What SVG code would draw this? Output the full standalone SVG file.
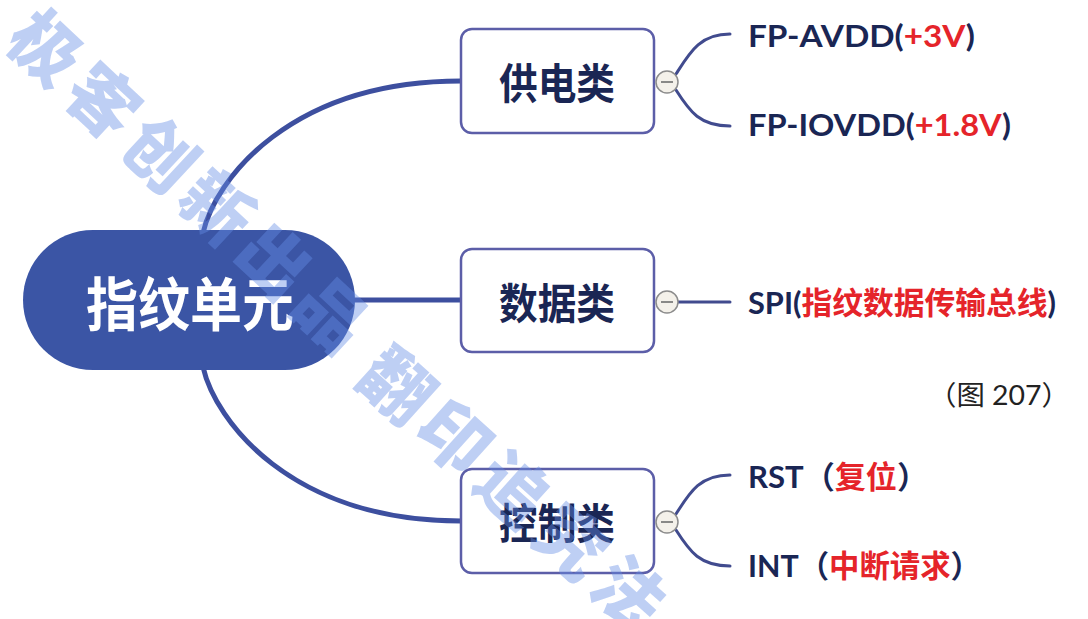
<svg xmlns="http://www.w3.org/2000/svg" width="1088" height="619" viewBox="0 0 1088 619">
<style>
.main{stroke:#3d4f9f;stroke-width:5;fill:none;stroke-linecap:round}
.br{stroke:#414b8e;stroke-width:3;fill:none;stroke-linecap:round}
.box{fill:#fff;stroke:#5c5ea8;stroke-width:2.5}
.cat{font-family:"Noto Sans CJK SC",sans-serif;font-weight:700;font-size:42px;fill:#1a2654}
.leaf{font-family:"Lato","Noto Sans CJK SC",sans-serif;font-weight:700;font-size:31px;fill:#1a2654}
.red{fill:#e5242a}
.tog circle{fill:#f4f1ea;stroke:#8c8c8c;stroke-width:1.5}
.tog line{stroke:#666;stroke-width:1.5}
.wm{font-family:"Noto Sans CJK SC",sans-serif;font-weight:900;font-size:70px;fill:rgb(100,140,228);fill-opacity:0.42}
</style>
<rect width="1088" height="619" fill="#fff"/>
<g id="connectors">
<path class="main" d="M203,233 C215,180 290,81 461,81"/>
<path class="main" d="M355,300 L461,300"/>
<path class="main" d="M203,367 C215,420 290,521 461,521"/>
<path class="br" d="M676,74 C690,52 700,34 730,34"/>
<path class="br" d="M676,90 C690,112 700,126 730,126"/>
<path class="br" d="M678,302 L730,302"/>
<path class="br" d="M676,514 C690,492 700,475 730,475"/>
<path class="br" d="M676,530 C690,552 700,566 730,566"/>
</g>
<g id="root">
<rect x="23" y="230" width="332" height="140" rx="70" fill="#3b55a5"/>
<text x="86" y="326" font-family="Noto Sans CJK SC,sans-serif" font-weight="700" font-size="58" fill="#fff" textLength="208" lengthAdjust="spacingAndGlyphs">指纹单元</text>
</g>
<g id="power">
<rect class="box" x="461" y="29" width="193" height="104" rx="11"/>
<text class="cat" x="499" y="99" textLength="116" lengthAdjust="spacingAndGlyphs">供电类</text>
<g class="tog"><circle cx="667" cy="82" r="11"/><line x1="661" y1="82" x2="673" y2="82"/></g>
</g>
<g id="data">
<rect class="box" x="461" y="249" width="193" height="103" rx="11"/>
<text class="cat" x="499" y="319" textLength="116" lengthAdjust="spacingAndGlyphs">数据类</text>
<g class="tog"><circle cx="667" cy="302" r="11"/><line x1="661" y1="302" x2="673" y2="302"/></g>
</g>
<g id="control">
<rect class="box" x="461" y="469" width="193" height="104" rx="11"/>
<text class="cat" x="499" y="539" textLength="116" lengthAdjust="spacingAndGlyphs">控制类</text>
<g class="tog"><circle cx="667" cy="522" r="11"/><line x1="661" y1="522" x2="673" y2="522"/></g>
</g>
<g id="avdd"><text class="leaf" x="748" y="47" textLength="227" lengthAdjust="spacingAndGlyphs">FP-AVDD(<tspan class="red">+3V</tspan>)</text></g>
<g id="iovdd"><text class="leaf" x="748" y="136" textLength="263" lengthAdjust="spacingAndGlyphs">FP-IOVDD(<tspan class="red">+1.8V</tspan>)</text></g>
<g id="spi"><text class="leaf" x="748" y="314" textLength="308" lengthAdjust="spacingAndGlyphs">SPI(<tspan class="red">指纹数据传输总线</tspan>)</text></g>
<g id="rst"><text class="leaf" x="748" y="488" textLength="180" lengthAdjust="spacingAndGlyphs">RST（<tspan class="red">复位</tspan>）</text></g>
<g id="int"><text class="leaf" x="748" y="577" textLength="233" lengthAdjust="spacingAndGlyphs">INT（<tspan class="red">中断请求</tspan>）</text></g>
<g id="caption"><text x="928" y="405" font-family="Lato,Noto Sans CJK SC,sans-serif" font-size="27" fill="#222" textLength="142" lengthAdjust="spacingAndGlyphs">（图 207）</text></g>
<g id="watermark">
<text class="wm" transform="translate(46,48) rotate(43)" x="-35" y="26" letter-spacing="8">极客创新出品</text>
<text class="wm" transform="translate(397,385) rotate(42)" x="-35" y="26" letter-spacing="8">翻印追究法</text>
</g>
</svg>
